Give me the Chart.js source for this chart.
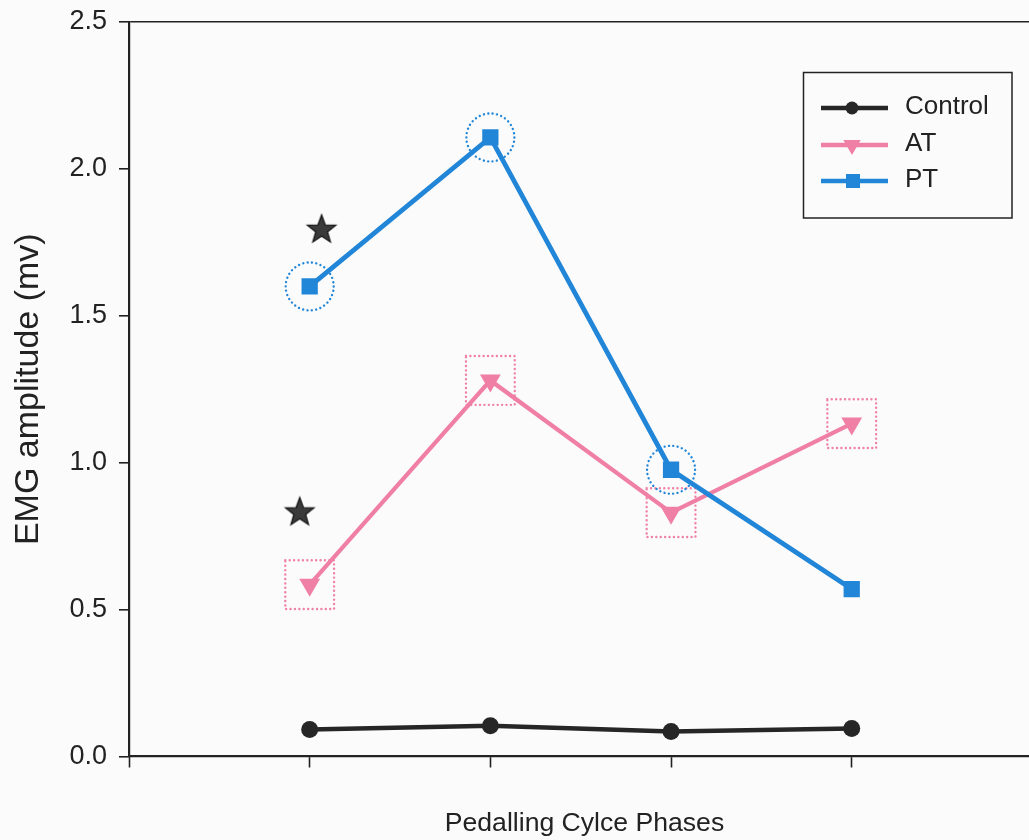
<!DOCTYPE html>
<html>
<head>
<meta charset="utf-8">
<script src="https://cdn.jsdelivr.net/npm/chart.js@4.4.1/dist/chart.umd.min.js"></script>
<style>
  html, body { margin: 0; padding: 0; background: #fbfbfb; overflow: hidden; }
  #wrap { width: 1040px; height: 840px; }
</style>
</head>
<body>
<div id="wrap"><canvas id="c" width="1040" height="840"></canvas></div>
<script>
// ---- data ----
const phases = [1, 2, 3, 4];               // category positions (no labels shown)
const seriesNames = ['Control', 'AT', 'PT'];
const control = [0.092, 0.105, 0.085, 0.095];
const at = [0.585, 1.28, 0.83, 1.133];
const pt = [1.60, 2.107, 0.976, 0.57];
const ptMarked = [true, true, true, false];  // dotted circles
const atMarked = [true, true, true, true];   // dotted squares
const starX = [1.066, 0.945];
const starY = [1.796, 0.834];
const yTicks = [0, 0.5, 1.0, 1.5, 2.0, 2.5];
const xTicks = [0, 1, 2, 3, 4];

// ---- styles ----
const BLACK = '#262626';
const PINK = '#f07fa6';
const BLUE = '#2286d8';
const FONT = '"Liberation Sans", Arial, sans-serif';

const toXY = (vals) => vals.map((v, i) => ({ x: phases[i], y: v }));
const marked = (vals, flags) => vals.map((v, i) => ({ x: phases[i], y: v })).filter((p, i) => flags[i]);

// star image for significance marks
const starImg = document.createElement('canvas');
starImg.width = 34; starImg.height = 34;
(function () {
  const g = starImg.getContext('2d');
  const cx = 17, cy = 18, R = 15, r = 6.2;
  g.beginPath();
  for (let k = 0; k < 10; k++) {
    const ang = -Math.PI / 2 + k * Math.PI / 5;
    const rad = k % 2 === 0 ? R : r;
    const px = cx + rad * Math.cos(ang), py = cy + rad * Math.sin(ang);
    if (k === 0) g.moveTo(px, py); else g.lineTo(px, py);
  }
  g.closePath();
  g.fillStyle = '#3a3a3a';
  g.fill();
  g.lineWidth = 1.2;
  g.strokeStyle = '#111';
  g.stroke();
})();

const dottedPlugin = {
  id: 'dotted',
  beforeDatasetDraw(chart, args) {
    const ds = chart.data.datasets[args.index];
    if (ds.dotted) {
      chart.ctx.save();
      chart.ctx.setLineDash([0.01, 4.4]);
      chart.ctx.lineCap = 'round';
    }
  },
  afterDatasetDraw(chart, args) {
    const ds = chart.data.datasets[args.index];
    if (ds.dotted) chart.ctx.restore();
  }
};

const legendPlugin = {
  id: 'boxLegend',
  afterDraw(chart) {
    const ctx = chart.ctx;
    ctx.save();
    ctx.setLineDash([]);
    ctx.strokeStyle = '#222';
    ctx.lineWidth = 1.5;
    ctx.strokeRect(803.5, 72.5, 208.5, 145.5);
    const rows = [108, 145, 181];
    for (let i = 0; i < 3; i++) {
      const ds = chart.data.datasets[i];
      const y = rows[i];
      ctx.strokeStyle = ds.borderColor;
      ctx.lineWidth = 4.5;
      ctx.lineCap = 'butt';
      ctx.beginPath(); ctx.moveTo(821, y); ctx.lineTo(888, y); ctx.stroke();
      ctx.fillStyle = ds.pointBackgroundColor;
      ctx.beginPath();
      if (ds.pointStyle === 'circle') {
        ctx.arc(852, y, 6.5, 0, Math.PI * 2);
      } else if (ds.pointStyle === 'triangle') {
        const r = 10;
        ctx.moveTo(852, y + r);
        ctx.lineTo(852 - r * 0.866, y - r / 2);
        ctx.lineTo(852 + r * 0.866, y - r / 2);
        ctx.closePath();
      } else {
        ctx.rect(846, y - 7, 14, 14);
      }
      ctx.fill();
      ctx.fillStyle = '#222';
      ctx.font = '26px ' + FONT;
      ctx.textBaseline = 'middle';
      ctx.textAlign = 'left';
      ctx.fillText(ds.label, 905, y - 1);
    }
    ctx.restore();
  }
};

new Chart(document.getElementById('c'), {
  type: 'line',
  data: {
    datasets: [
      { label: seriesNames[0], data: toXY(control), borderColor: BLACK, backgroundColor: BLACK,
        pointBackgroundColor: BLACK, pointBorderColor: BLACK, borderWidth: 4.5,
        pointStyle: 'circle', pointRadius: 8.5, pointBorderWidth: 0, order: 2 },
      { label: seriesNames[1], data: toXY(at), borderColor: PINK, backgroundColor: PINK,
        pointBackgroundColor: PINK, pointBorderColor: PINK, borderWidth: 4.2,
        pointStyle: 'triangle', pointRotation: 180, pointRadius: 12, pointBorderWidth: 0, order: 1 },
      { label: seriesNames[2], data: toXY(pt), borderColor: BLUE, backgroundColor: BLUE,
        pointBackgroundColor: BLUE, pointBorderColor: BLUE, borderWidth: 4.8,
        pointStyle: 'rect', pointRadius: 11.5, pointBorderWidth: 0, order: 0 },
      { label: 'PT marked', data: marked(pt, ptMarked), showLine: false, dotted: true,
        pointStyle: 'circle', pointRadius: 24, pointBackgroundColor: 'rgba(0,0,0,0)',
        pointBorderColor: BLUE, pointBorderWidth: 2.4, order: 3 },
      { label: 'AT marked', data: marked(at, atMarked), showLine: false, dotted: true,
        pointStyle: 'rect', pointRadius: 34.5, pointBackgroundColor: 'rgba(0,0,0,0)',
        pointBorderColor: PINK, pointBorderWidth: 2.4, order: 4 },
      { label: 'Significance', data: starX.map((x, i) => ({ x: x, y: starY[i] })), showLine: false,
        pointStyle: starImg, pointRadius: 15, order: 5 }
    ]
  },
  options: {
    responsive: false,
    animation: false,
    devicePixelRatio: 1,
    layout: { autoPadding: false, padding: { left: 0, right: 0, top: 22, bottom: 0 } },
    plugins: { legend: { display: false }, tooltip: { enabled: false } },
    scales: {
      x: {
        type: 'linear', min: 0, max: 5.042,
        afterBuildTicks: (s) => { s.ticks = xTicks.map(v => ({ value: v })); },
        afterFit: (s) => { s.height = 83.5; s.paddingLeft = 0; s.paddingRight = 0; },
        ticks: { callback: () => '', padding: 0 },
        grid: { drawOnChartArea: false, drawTicks: true, tickLength: 11, tickColor: '#222', tickWidth: 1.6 },
        border: { display: true, color: '#222', width: 2.2 },
        title: { display: true, text: 'Pedalling Cylce Phases', color: '#222',
                 font: { family: FONT, size: 26.6 }, padding: { top: 0, bottom: 0 } }
      },
      y: {
        type: 'linear', min: 0, max: 2.5,
        afterBuildTicks: (s) => { s.ticks = yTicks.map(v => ({ value: v })); },
        afterFit: (s) => { s.width = 129; s.paddingTop = 0; s.paddingBottom = 0; },
        ticks: { color: '#222', font: { family: FONT, size: 27 }, padding: 12,
                 callback: (v) => Number(v).toFixed(1) },
        grid: { drawOnChartArea: true, drawTicks: true, tickLength: 10, tickColor: '#222', tickWidth: 1.6,
                color: (c) => (c.tick && c.tick.value === 2.5) ? '#222' : 'rgba(0,0,0,0)', lineWidth: 1.6 },
        border: { display: true, color: '#222', width: 2.2 },
        title: { display: true, text: 'EMG amplitude (mv)', color: '#222',
                 font: { family: FONT, size: 34 }, padding: { top: 8, bottom: 0 } }
      }
    }
  },
  plugins: [dottedPlugin, legendPlugin]
});
</script>
</body>
</html>
